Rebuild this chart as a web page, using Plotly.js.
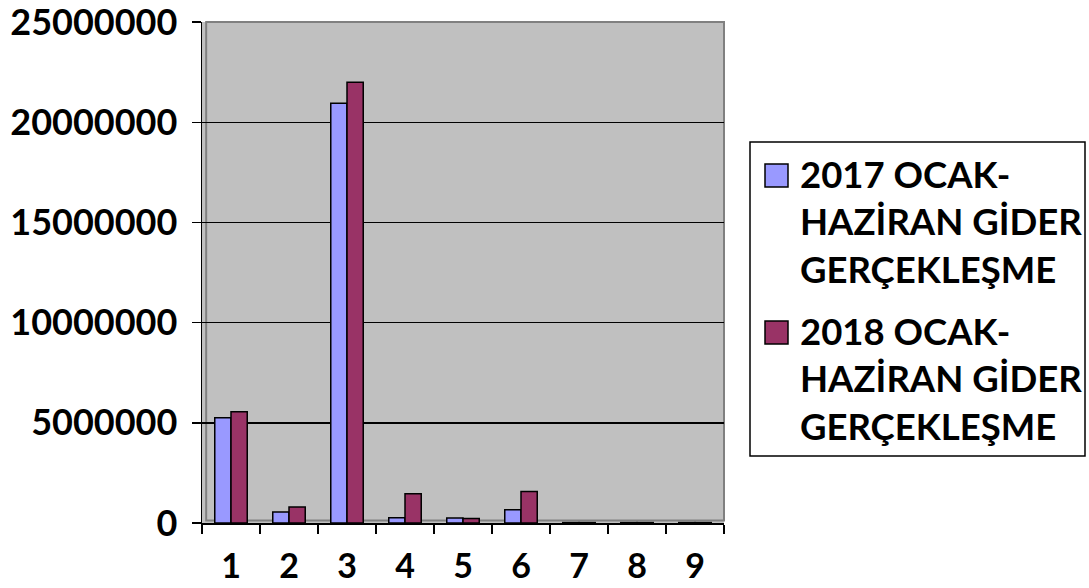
<!DOCTYPE html>
<html>
<head>
<meta charset="utf-8">
<script src="https://cdn.plot.ly/plotly-3.0.1.min.js"></script>
<style>html,body{margin:0;padding:0;background:#fff;}#chart{width:1089px;height:588px;}</style>
</head>
<body>
<div id="chart"></div>
<script>
const categories = ["1","2","3","4","5","6","7","8","9"];
const seriesNames = ["2017 OCAK-<br>HAZİRAN GİDER<br>GERÇEKLEŞME", "2018 OCAK-<br>HAZİRAN GİDER<br>GERÇEKLEŞME"];
const seriesColors = ["#9999FF", "#993366"];
const values2017 = [5250000, 550000, 20950000, 260000, 250000, 660000, 20000, 20000, 20000];
const values2018 = [5550000, 800000, 22000000, 1460000, 230000, 1570000, 20000, 20000, 20000];
const yTickVals = [0, 5000000, 10000000, 15000000, 20000000, 25000000];
const yTickText = ["0", "5000000", "10000000", "15000000", "20000000", "25000000"];

const FONT = "Lato, 'Open Sans', sans-serif";
const W = 1089, H = 588, ML = 202, MR = 365, MT = 22, MB = 65;
const PW = W - ML - MR, PH = H - MT - MB;
const px = v => (v - ML) / PW;          // pixel x -> paper x
const py = v => (H - MB - v) / PH;      // pixel y -> paper y

const traces = [values2017, values2018].map((vals, i) => ({
  type: "bar", x: categories, y: vals, name: seriesNames[i], showlegend: false,
  marker: {color: seriesColors[i], line: {color: "#000000", width: 1.5}}
}));

// custom legend (box, swatches, labels) in paper coordinates
const legendShapes = [
  {type: "rect", xref: "paper", yref: "paper", x0: px(750), x1: px(1085), y0: py(456), y1: py(142),
   line: {color: "#000000", width: 1.5}, fillcolor: "#FFFFFF"},
  {type: "rect", xref: "paper", yref: "paper", x0: px(765), x1: px(788), y0: py(187), y1: py(164),
   line: {color: "#000000", width: 1.5}, fillcolor: seriesColors[0]},
  {type: "rect", xref: "paper", yref: "paper", x0: px(765), x1: px(788), y0: py(344), y1: py(321),
   line: {color: "#000000", width: 1.5}, fillcolor: seriesColors[1]}
];
const legendAnnotations = [221.5, 378.5].map((yc, i) => ({
  xref: "paper", yref: "paper", x: px(798), y: py(yc), xanchor: "left", yanchor: "middle",
  align: "left", showarrow: false, text: seriesNames[i],
  font: {family: FONT, size: 36.5, weight: "bold", color: "#000"}
}));

const layout = {
  width: W, height: H,
  margin: {l: ML, r: MR, t: MT, b: MB, pad: 0},
  paper_bgcolor: "#FFFFFF",
  plot_bgcolor: "#C0C0C0",
  barmode: "group",
  bargap: 0.44,
  bargroupgap: 0,
  font: {family: FONT, color: "#000000"},
  showlegend: false,
  xaxis: {
    type: "category",
    tickson: "boundaries",
    ticks: "outside", ticklen: 9, tickcolor: "#000", tickwidth: 1.5,
    showline: true, linecolor: "#000", linewidth: 1.5,
    showgrid: false,
    tickfont: {family: FONT, size: 34, weight: "bold", color: "#000"},
    ticklabelstandoff: 13,
    ticklabeloverflow: "allow",
    fixedrange: true
  },
  yaxis: {
    range: [0, 25004000],
    tickvals: yTickVals, ticktext: yTickText,
    ticks: "outside", ticklen: 9, tickcolor: "#000", tickwidth: 1.5,
    showline: true, linecolor: "#000", linewidth: 1.5,
    showgrid: true, gridcolor: "#000000", gridwidth: 1.5,
    zeroline: false,
    tickfont: {family: FONT, size: 36, weight: "bold", color: "#000"},
    ticklabelstandoff: 7,
    ticklabeloverflow: "allow",
    fixedrange: true
  },
  shapes: [
    {type: "rect", xref: "paper", yref: "paper", x0: 0.008, x1: 1, y0: 0.005, y1: 1,
     line: {color: "#808080", width: 2}, fillcolor: "rgba(0,0,0,0)", layer: "below"}
  ].concat(legendShapes),
  annotations: legendAnnotations
};

Plotly.newPlot("chart", traces, layout, {displayModeBar: false, staticPlot: true});
</script>
</body>
</html>
